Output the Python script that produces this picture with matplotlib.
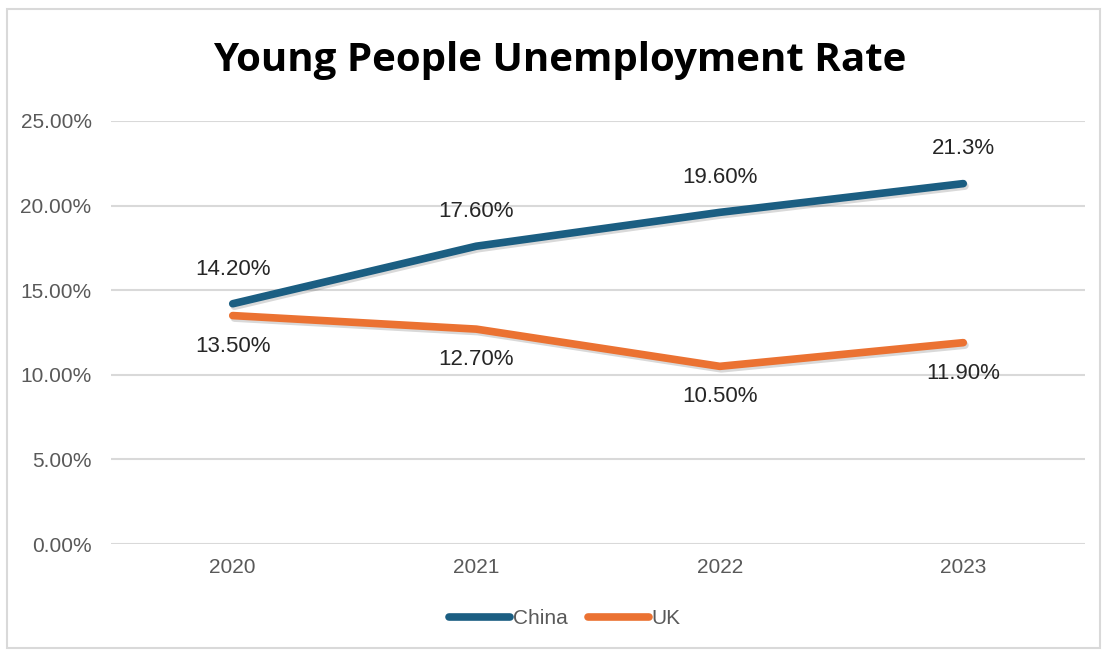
import matplotlib
matplotlib.use("Agg")
import matplotlib.pyplot as plt
import matplotlib.patheffects as pe
from matplotlib.patches import Rectangle
from matplotlib import font_manager

years = ["2020", "2021", "2022", "2023"]
china = [14.2, 17.6, 19.6, 21.3]
uk = [13.5, 12.7, 10.5, 11.9]
china_labels = ["14.20%", "17.60%", "19.60%", "21.3%"]
uk_labels = ["13.50%", "12.70%", "10.50%", "11.90%"]
yticks = [0, 5, 10, 15, 20, 25]

names = {f.name for f in font_manager.fontManager.ttflist}
narrow = "Liberation Sans Narrow" if "Liberation Sans Narrow" in names else "Liberation Sans"
fam = [narrow, "DejaVu Sans"]

fig = plt.figure(figsize=(11.04, 6.5), dpi=100)
fig.patches.append(Rectangle((7/1104, 2/650), 1093/1104, 639/650, transform=fig.transFigure,
                             fill=False, edgecolor="#D9D9D9", linewidth=1.5))

ax = fig.add_axes([111/1104, (650-544)/650, (1085-111)/1104, (544-121)/650])
x = range(len(years))
shadow = [pe.SimpleLineShadow(offset=(1.2, -1.8), shadow_color="black", alpha=0.15), pe.Normal()]
ax.plot(x, china, color="#1B5E82", linewidth=5.5, solid_capstyle="round", label="China", path_effects=shadow, zorder=3)
ax.plot(x, uk, color="#EB7232", linewidth=5.5, solid_capstyle="round", label="UK", path_effects=shadow, zorder=3)

ax.set_xlim(-0.5, len(years) - 0.5)
ax.set_ylim(0, 25)
ax.set_yticks(yticks)
ax.set_yticklabels([f"{v:.2f}%" for v in yticks], family=fam, fontsize=15, color="#595959")
ax.set_xticks(list(x))
ax.set_xticklabels(years, family=fam, fontsize=15, color="#595959")
ax.tick_params(axis="both", length=0)
ax.tick_params(axis="y", pad=14)
ax.tick_params(axis="x", pad=10)
ax.grid(axis="y", color="#D9D9D9", linewidth=1.5)
ax.set_axisbelow(True)
for s in ax.spines.values():
    s.set_visible(False)

for i, (v, lab) in enumerate(zip(china, china_labels)):
    ax.annotate(lab, (i, v), xytext=(0, 25), textcoords="offset points", ha="center", va="center",
                family=fam, fontsize=16, color="#262626")
for i, (v, lab) in enumerate(zip(uk, uk_labels)):
    ax.annotate(lab, (i, v), xytext=(0, -22), textcoords="offset points", ha="center", va="center",
                family=fam, fontsize=16, color="#262626")

fig.text(560/1104, (650-60)/650, "Young People Unemployment Rate", ha="center", va="center",
         fontsize=29, fontweight="bold", family=["Open Sans", "DejaVu Sans"], color="black")

leg = ax.legend(loc="center", bbox_to_anchor=(565/1104, (650-619)/650), bbox_transform=fig.transFigure,
                ncol=2, frameon=False, prop={"family": fam, "size": 15}, handlelength=2.9,
                handletextpad=0.15, columnspacing=1.0)
for ln in leg.get_lines():
    ln.set_path_effects([])
for t in leg.get_texts():
    t.set_color("#595959")

fig.savefig("out.png", dpi=100)
